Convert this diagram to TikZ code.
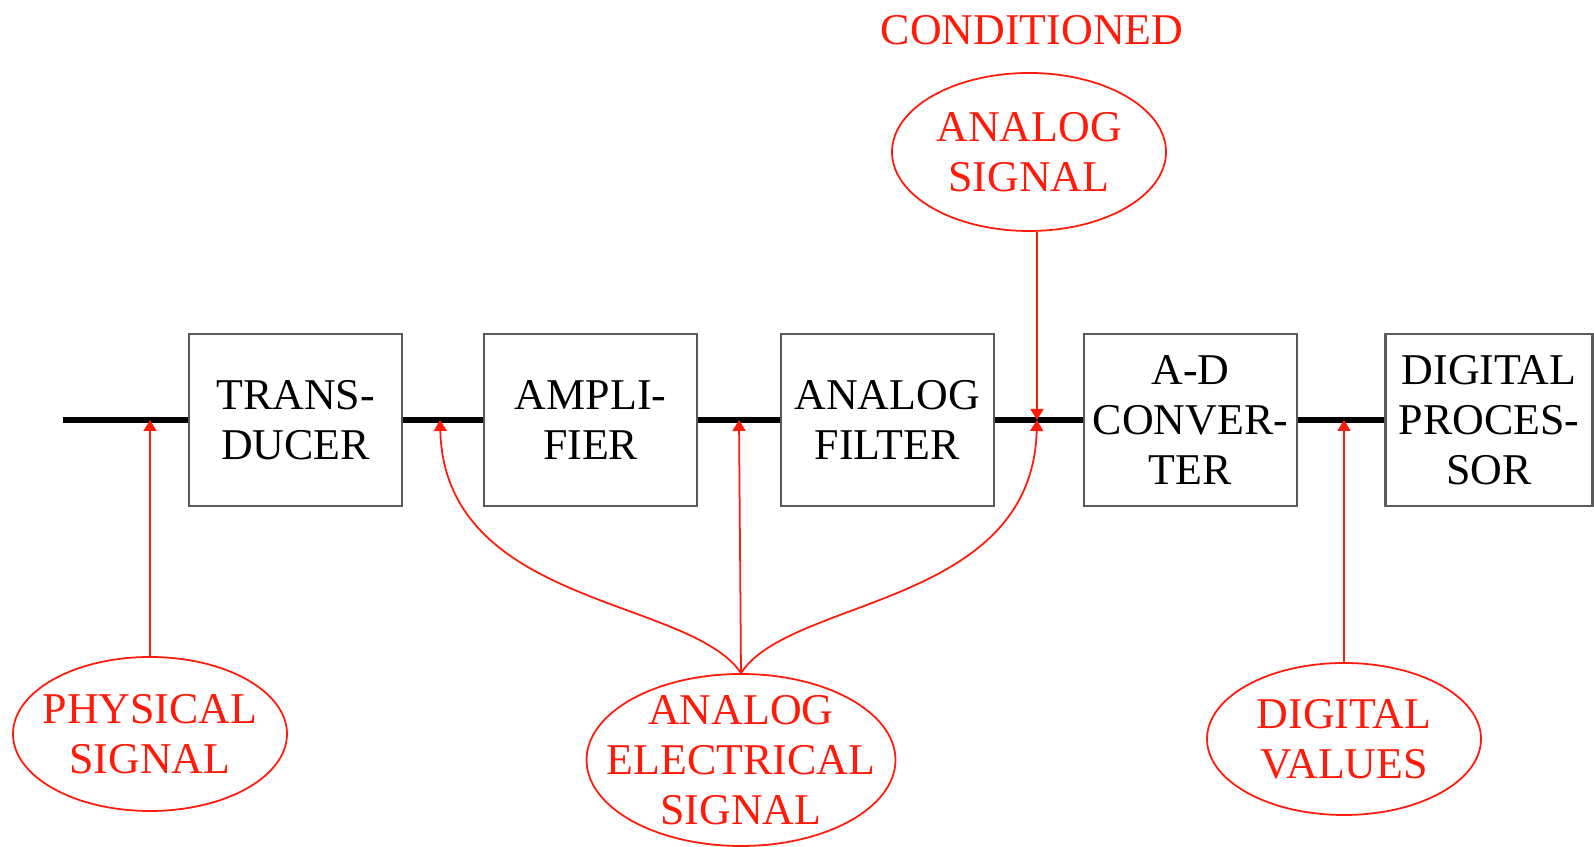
\documentclass[tikz,border=0pt]{standalone}
\usepackage{fontspec}
\setmainfont{Liberation Serif}
\usepackage{tikz}
\usetikzlibrary{shapes.geometric,arrows.meta,positioning}
\definecolor{sigred}{HTML}{FF1A0A}
\definecolor{boxgray}{HTML}{5A5A5A}
\tikzstyle{block} = [rectangle, draw=boxgray, line width=0.6pt, minimum width=2.13cm,
    minimum height=1.72cm, inner sep=0pt, align=center, font=\fontsize{12.5}{14.3}\selectfont]
\tikzstyle{bubble} = [ellipse, draw=sigred, line width=0.5pt, inner sep=-0.25cm, text=sigred,
    align=center, font=\fontsize{12.5}{14.3}\selectfont]
\tikzstyle{wire} = [line width=1.5pt, black]
\tikzstyle{sig} = [-{Triangle[length=1.1mm,width=1.3mm]}, sigred, line width=0.5pt]

\begin{document}
\begin{tikzpicture}
\path[use as bounding box, fill=white] (0,0) rectangle (15.94,8.47);
% signal chain
\coordinate (in) at (0.63,4.27);
\node[block] (tr) at (2.955,4.27) {TRANS-\\DUCER};
\node[block, right=0.80cm of tr] (amp) {AMPLI-\\FIER};
\node[block, right=0.815cm of amp] (filt) {ANALOG\\FILTER};
\node[block, right=0.88cm of filt] (adc) {A-D\\CONVER-\\TER};
\node[block, minimum width=2.07cm, right=0.865cm of adc] (dsp) {DIGITAL\\PROCES-\\SOR};
\draw[wire] (in) -- (tr);
\draw[wire] (tr) -- (amp);
\draw[wire] (amp) -- (filt);
\draw[wire] (filt) -- (adc);
\draw[wire] (adc) -- (dsp);
% points on the chain
\coordinate (p1) at (1.50,4.27);
\coordinate (p2) at (4.40,4.27);
\coordinate (p3) at (7.39,4.27);
\coordinate (p4) at (10.37,4.27);
\coordinate (p5) at (13.44,4.27);
% signal labels
\node[bubble, minimum width=2.74cm, minimum height=1.54cm] (phys) at (1.50,1.13) {PHYSICAL\\SIGNAL};
\node[bubble, minimum width=3.06cm, minimum height=1.72cm] (aes) at (7.41,0.87) {ANALOG\\ELECTRICAL\\SIGNAL};
\node[bubble, minimum width=2.74cm, minimum height=1.58cm] (cas) at (10.29,6.95) {ANALOG\\SIGNAL};
\node[text=sigred, font=\fontsize{12.5}{14.3}\selectfont] (cond) at (10.32,8.17) {CONDITIONED};
\node[bubble, minimum width=2.74cm, minimum height=1.52cm] (dval) at (13.44,1.08) {DIGITAL\\VALUES};
% arrows
\draw[sig] (phys) -- (p1);
\draw[sig] (aes.north) .. controls (6.9,2.5) and (4.45,2.4) .. (p2);
\draw[sig] (aes.north) -- (p3);
\draw[sig] (aes.north) .. controls (7.9,2.5) and (10.32,2.4) .. (p4);
\draw[sig] (cas.south -| p4) -- (p4);
\draw[sig] (dval) -- (p5);
\end{tikzpicture}
\end{document}
